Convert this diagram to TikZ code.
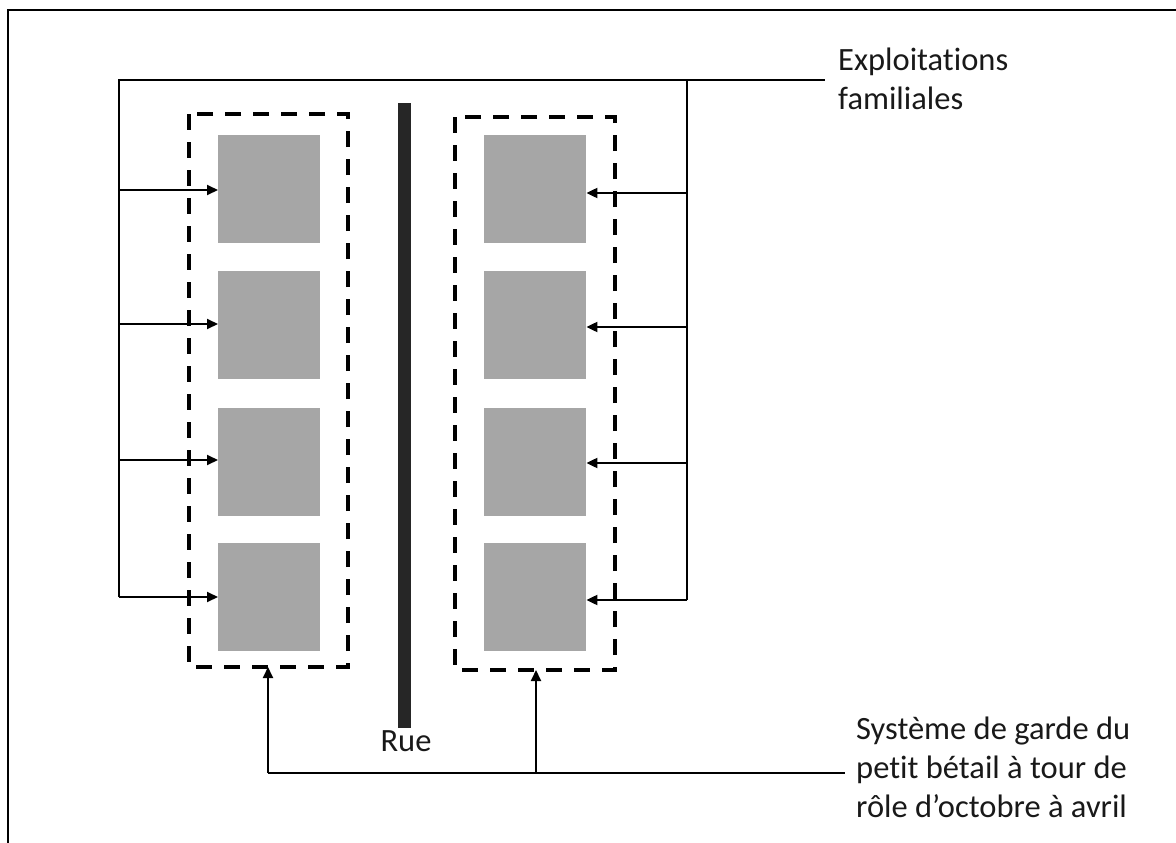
\documentclass[tikz,border=0pt]{standalone}
\usepackage{fontspec}
\setmainfont[Ligatures=NoCommon]{Carlito}
\usetikzlibrary{arrows.meta,positioning}
\definecolor{sqgray}{HTML}{A6A6A6}
\definecolor{roadcol}{HTML}{262626}
\tikzset{
  frameline/.style={line width=2pt,draw=black},
  conn/.style={line width=2pt,draw=black},
  arr/.style={conn,-{Triangle[length=11pt,width=10pt]}},
  dashbox/.style={draw=black,line width=3.8pt,dash pattern=on 16pt off 12pt,inner sep=0pt},
  sq/.style={fill=sqgray,draw=none,minimum width=102pt,minimum height=108pt,inner sep=0pt,anchor=north west},
  lbl/.style={font=\fontsize{32.5}{39}\selectfont,align=left,inner sep=0pt,text=black!90}
}
\begin{document}
\begin{tikzpicture}[x=1pt,y=-1pt]
\useasboundingbox (0,0) rectangle (1176,843);
% outer frame (top and left)
\draw[frameline] (8,843) -- (8,10) -- (1176,10);
% dashed groups
\draw[dashbox] (189,114) rectangle (348,667);
\draw[dashbox] (455,117) rectangle (615,670);
\coordinate (LBb) at (268,667);
\coordinate (RBb) at (536,670);
% squares
\node[sq] (L1) at (218,135) {};
\node[sq] (L2) at (218,271) {};
\node[sq] (L3) at (218,408) {};
\node[sq] (L4) at (218,543) {};
\node[sq] (R1) at (484,135) {};
\node[sq] (R2) at (484,271) {};
\node[sq] (R3) at (484,408) {};
\node[sq] (R4) at (484,543) {};
% road
\fill[roadcol] (398,103) rectangle (411,728);
\node[lbl,anchor=base] (rue) at (406,751) {Rue};
% labels
\node[lbl,anchor=north west] (expl) at (838,48) {Exploitations\\familiales};
\node[lbl,anchor=north west] (garde) at (856,717) {Système de garde du\\petit bétail à tour de\\rôle d’octobre à avril};
% top connector
\coordinate (TL) at (119,80);
\coordinate (TR) at (687,80);
\coordinate (TE) at (825,80);
\draw[conn] (119,597) -- (TL) -- (TE);
\draw[conn] (TR) -- (687,600);
% left arrows
\draw[arr] (119,190) -- (L1.west |- 0,190);
\draw[arr] (119,324) -- (L2.west |- 0,324);
\draw[arr] (119,460) -- (L3.west |- 0,460);
\draw[arr] (119,597) -- (L4.west |- 0,597);
% right arrows
\draw[arr] (687,193) -- (R1.east |- 0,193);
\draw[arr] (687,327) -- (R2.east |- 0,327);
\draw[arr] (687,463) -- (R3.east |- 0,463);
\draw[arr] (687,600) -- (R4.east |- 0,600);
% bottom connector
\coordinate (BL) at (268,773);
\coordinate (BM) at (536,773);
\coordinate (BE) at (845,773);
\draw[conn] (BL) -- (BE);
\draw[arr] (BL) -- (LBb);
\draw[arr] (BM) -- (RBb);
\end{tikzpicture}
\end{document}
